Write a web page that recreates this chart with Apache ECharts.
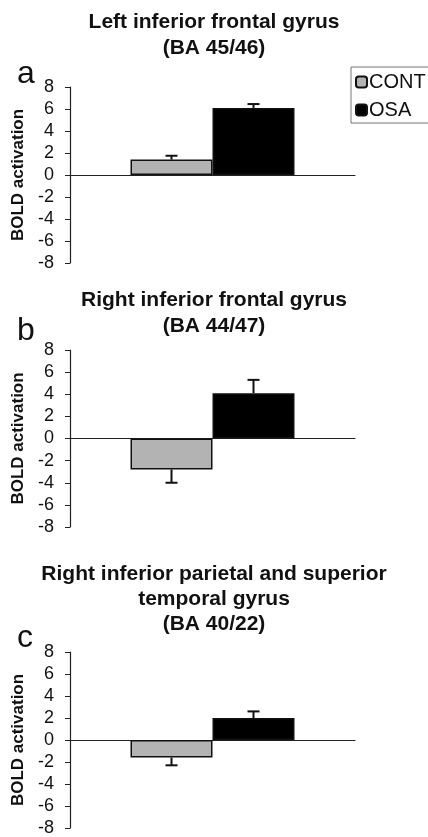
<!DOCTYPE html>
<html>
<head>
<meta charset="utf-8">
<script src="https://cdn.jsdelivr.net/npm/echarts@6/dist/echarts.min.js"></script>
<style>
  html, body { margin: 0; padding: 0; background: #fff; }
  #chart { width: 428px; height: 837px; }
</style>
</head>
<body>
<div id="chart"></div>
<script>
// values
const groups = ['CONT', 'OSA']
const panelLabels = ['a', 'b', 'c']
const panelTitles = [
  'Left inferior frontal gyrus\n(BA 45/46)',
  'Right inferior frontal gyrus\n(BA 44/47)',
  'Right inferior parietal and superior\ntemporal gyrus\n(BA 40/22)'
]
const contValues = [1.4, -2.8, -1.6]
const osaValues = [6.1, 4.1, 2.0]
const contErrors = [0.35, 1.2, 0.7]
const osaErrors = [0.35, 1.2, 0.6]
const yTicks = [-8, -6, -4, -2, 0, 2, 4, 6, 8]

const font = '"Liberation Sans", Arial, sans-serif'
const barWidth = 82
const gridTops = [87, 350, 652]
const gridHeights = [176, 177, 178]
const titleTops = [4, 282, 557]
const titleLineHeights = [26, 26, 25]
const labelTops = [53, 310, 617]

const chart = echarts.init(document.getElementById('chart'))

const grids = [], xAxes = [], yAxes = [], series = [], titles = []

// draws a one-sided Excel style error bar
const errorBar = (side) => (params, api) => {
  const v = api.value(1)
  const e = api.value(2)
  const base = api.coord([api.value(0), v])
  const end = api.coord([api.value(0), v >= 0 ? v + e : v - e])
  const x = base[0] + side * barWidth / 2
  const style = { stroke: '#111', lineWidth: 2 }
  return {
    type: 'group',
    children: [
      { type: 'line', shape: { x1: x, y1: base[1], x2: x, y2: end[1] }, style },
      { type: 'line', shape: { x1: x - 6, y1: end[1], x2: x + 6, y2: end[1] }, style }
    ]
  }
}

panelTitles.forEach((t, i) => {
  titles.push({
    text: t, left: 'center', top: titleTops[i],
    textStyle: { fontFamily: font, fontSize: 21, fontWeight: 'bold', color: '#111', lineHeight: titleLineHeights[i] }
  })
  titles.push({
    text: panelLabels[i], left: 12, top: labelTops[i],
    textStyle: { fontFamily: font, fontSize: 32, fontWeight: 'normal', color: '#111' }
  })
  grids.push({ left: 70, width: 285, top: gridTops[i], height: gridHeights[i] })
  xAxes.push({
    type: 'category', gridIndex: i, data: [''],
    axisLine: { onZero: true, lineStyle: { color: '#222', width: 1.2 } },
    axisTick: { show: false }, axisLabel: { show: false }, splitLine: { show: false }
  })
  yAxes.push({
    type: 'value', gridIndex: i, min: yTicks[0], max: yTicks[yTicks.length - 1], interval: 2,
    name: 'BOLD activation', nameLocation: 'middle', nameRotate: 90, nameGap: 42,
    nameTextStyle: { fontFamily: font, fontSize: 17, fontWeight: 'bold', color: '#111' },
    axisLine: { show: true, lineStyle: { color: '#222', width: 1.2 } },
    axisTick: { show: true, length: 5, lineStyle: { color: '#222' } },
    axisLabel: { fontFamily: font, fontSize: 18, color: '#111', margin: 16 },
    splitLine: { show: false }
  })
  series.push({
    name: groups[0], type: 'bar', xAxisIndex: i, yAxisIndex: i,
    barWidth: barWidth, barGap: '0%',
    itemStyle: { color: '#b3b3b3', borderColor: '#111', borderWidth: 1.5 },
    data: [contValues[i]]
  })
  series.push({
    name: groups[1], type: 'bar', xAxisIndex: i, yAxisIndex: i,
    barWidth: barWidth, barGap: '0%',
    itemStyle: { color: '#000', borderColor: '#111', borderWidth: 1.5 },
    data: [osaValues[i]]
  })
  series.push({
    type: 'custom', xAxisIndex: i, yAxisIndex: i, z: 1,
    renderItem: errorBar(-1), silent: true,
    data: [[0, contValues[i], contErrors[i]]]
  })
  series.push({
    type: 'custom', xAxisIndex: i, yAxisIndex: i, z: 1,
    renderItem: errorBar(1), silent: true,
    data: [[0, osaValues[i], osaErrors[i]]]
  })
})

chart.setOption({
  animation: false,
  title: titles,
  legend: {
    data: groups, orient: 'vertical', left: 351, top: 67,
    itemWidth: 11, itemHeight: 11, itemGap: 8,
    borderColor: '#777', borderWidth: 1, padding: [5, 20, 3, 4],
    textStyle: { fontFamily: font, fontSize: 20, color: '#111', padding: [0, 0, 0, -3] }
  },
  grid: grids,
  xAxis: xAxes,
  yAxis: yAxes,
  series: series
})
</script>
</body>
</html>
